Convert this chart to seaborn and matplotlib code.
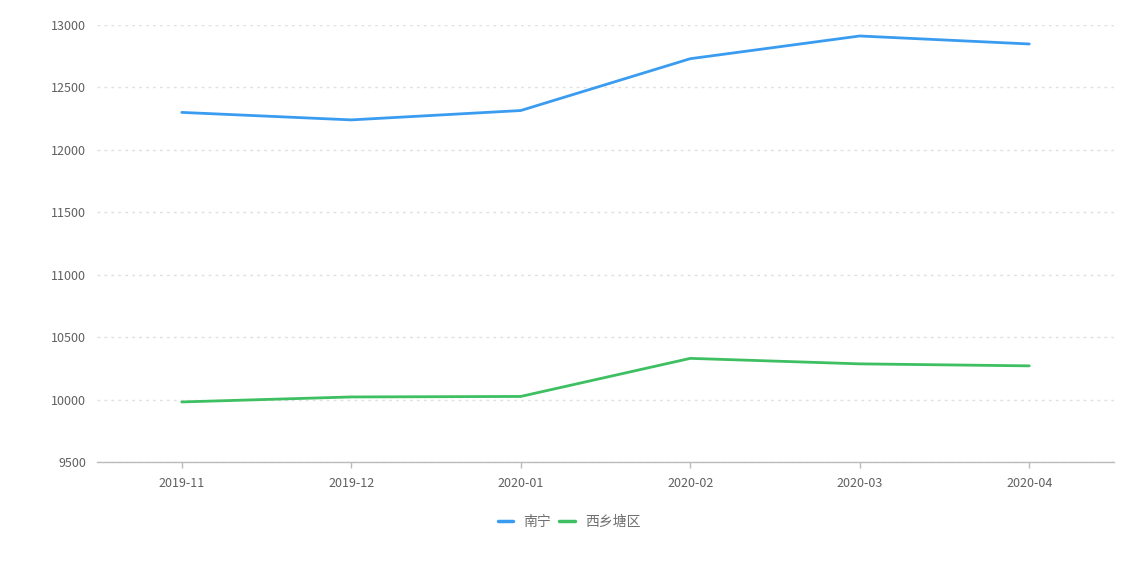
import matplotlib
matplotlib.use('Agg')
import matplotlib.pyplot as plt
import seaborn as sns
import pandas as pd

# data
months = ['2019-11', '2019-12', '2020-01', '2020-02', '2020-03', '2020-04']
nanning = [12300, 12240, 12315, 12730, 12912, 12848]
xixiangtang = [9981, 10021, 10025, 10330, 10286, 10270]
series_names = ['南宁', '西乡塘区']
colors = ['#3a9cf0', '#3dbf62']

df = pd.DataFrame({
    'month': months * 2,
    'price': nanning + xixiangtang,
    'area': [series_names[0]] * len(months) + [series_names[1]] * len(months),
})

sns.set_style('white')
plt.rcParams['font.family'] = ['Noto Sans CJK SC', 'DejaVu Sans']

fig = plt.figure(figsize=(11.38, 5.64), dpi=100)
ax = fig.add_axes([97 / 1138, 1 - 462 / 564, (1114 - 97) / 1138, (462 - 25) / 564])

sns.lineplot(data=df, x='month', y='price', hue='area', palette=colors,
             linewidth=2, ax=ax, sort=False)

ax.set_xlim(-0.5, len(months) - 0.5)
ax.set_ylim(9500, 13000)
ax.set_yticks(range(9500, 13001, 500))
ax.set_xlabel('')
ax.set_ylabel('')

# dashed grid, only horizontal
ax.yaxis.grid(True, linestyle=(0, (2, 3)), color='#e0e0e0', linewidth=1)
ax.xaxis.grid(False)
for s in ['top', 'right', 'left']:
    ax.spines[s].set_visible(False)
ax.spines['bottom'].set_color('#bbbbbb')
ax.spines['bottom'].set_linewidth(1)
ax.tick_params(axis='x', bottom=True, colors='#bbbbbb', length=4, width=1,
               direction='out', pad=7)
ax.tick_params(axis='y', left=False, length=0, pad=8)
for lab in ax.get_xticklabels() + ax.get_yticklabels():
    lab.set_color('#606060')
    lab.set_fontsize(9)

# legend centred on the figure, below the axis
leg = ax.legend(loc='center', bbox_to_anchor=(0.5, 1 - 522 / 564),
                bbox_transform=fig.transFigure,
                ncol=2, frameon=False, handlelength=1.1, handletextpad=0.75,
                columnspacing=0.6, fontsize=10)
for t in leg.get_texts():
    t.set_color('#707070')
for h in leg.get_lines():
    h.set_linewidth(2.5)

fig.savefig('out.png', dpi=100)
